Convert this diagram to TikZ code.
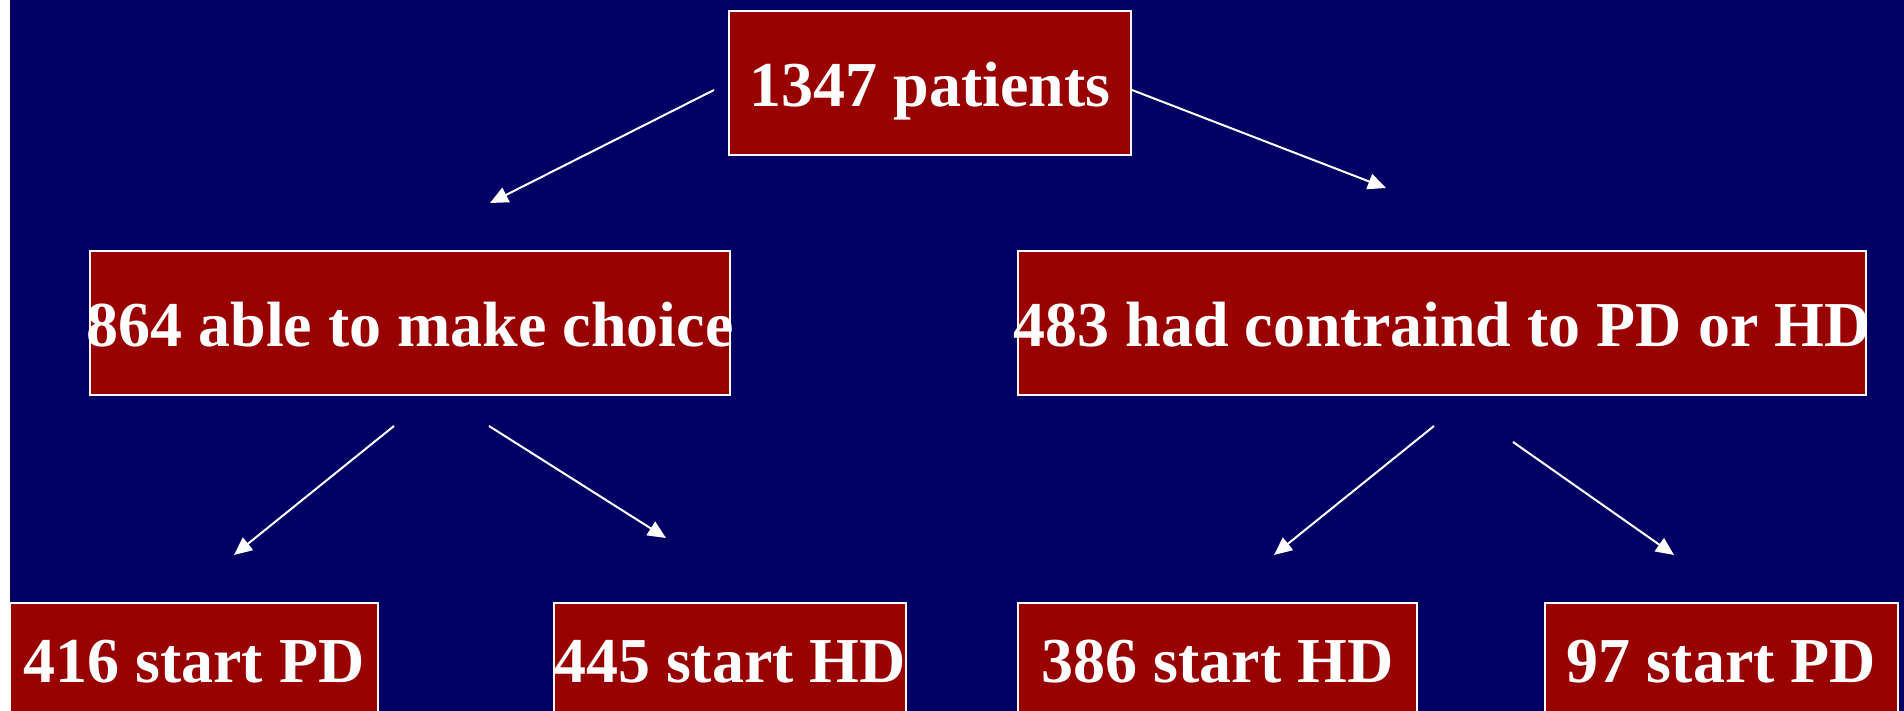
\documentclass[tikz,border=0pt]{standalone}
\usepackage{fontspec}
\setmainfont{Liberation Serif}
\usetikzlibrary{arrows.meta}
\definecolor{navybg}{HTML}{000064}
\definecolor{boxred}{HTML}{990000}
\begin{document}
\begin{tikzpicture}[x=1pt,y=-1pt,
  box/.style={draw=white, line width=2.4pt, fill=boxred, inner sep=0pt, rectangle, minimum height=144pt},
  lbl/.style={text=white, font=\fontsize{64}{77}\selectfont\bfseries, inner sep=0pt, anchor=base},
  arr/.style={draw=white, line width=2pt, -{Triangle[length=18pt,width=16pt]}}]
\useasboundingbox (0,0) rectangle (1904,711);
\fill[white] (0,0) rectangle (1904,711);
\fill[navybg] (10,0) rectangle (1904,711);
% boxes
\node[box, minimum width=402pt] (top) at (930,83) {};
\node[box, minimum width=640pt] (able) at (410,323) {};
\node[box, minimum width=848pt] (contra) at (1442,323) {};
\node[box, minimum width=368pt] (pdA) at (194,675) {};
\node[box, minimum width=352pt] (hdA) at (730,675) {};
\node[box, minimum width=399pt] (hdB) at (1217.5,675) {};
\node[box, minimum width=353pt] (pdB) at (1721.5,675) {};
% texts
\node[lbl] (ttop) at (930,107) {1347 patients};
\node[lbl] (table) at (410,347) {864 able to make choice};
\node[lbl] (tcontra) at (1442,347) {483 had contraind to PD or HD};
\node[lbl] (tpdA) at (194,682) {416 start PD};
\node[lbl] (thdA) at (730,682) {445 start HD};
\node[lbl] (thdB) at (1217.5,682) {386 start HD};
\node[lbl] (tpdB) at (1721.5,682) {97 start PD};
% arrow ends
\coordinate (s1) at (714,90);   \coordinate (e1) at (490,203);
\coordinate (s2) at (1132,90);  \coordinate (e2) at (1386,188);
\coordinate (s3) at (394,426);  \coordinate (e3) at (234,555);
\coordinate (s4) at (489,426);  \coordinate (e4) at (666,538);
\coordinate (s5) at (1434,426); \coordinate (e5) at (1274,555);
\coordinate (s6) at (1513,442); \coordinate (e6) at (1674,555);
\draw[arr] (s1) -- (e1);
\draw[arr] (s2) -- (e2);
\draw[arr] (s3) -- (e3);
\draw[arr] (s4) -- (e4);
\draw[arr] (s5) -- (e5);
\draw[arr] (s6) -- (e6);
\end{tikzpicture}
\end{document}
